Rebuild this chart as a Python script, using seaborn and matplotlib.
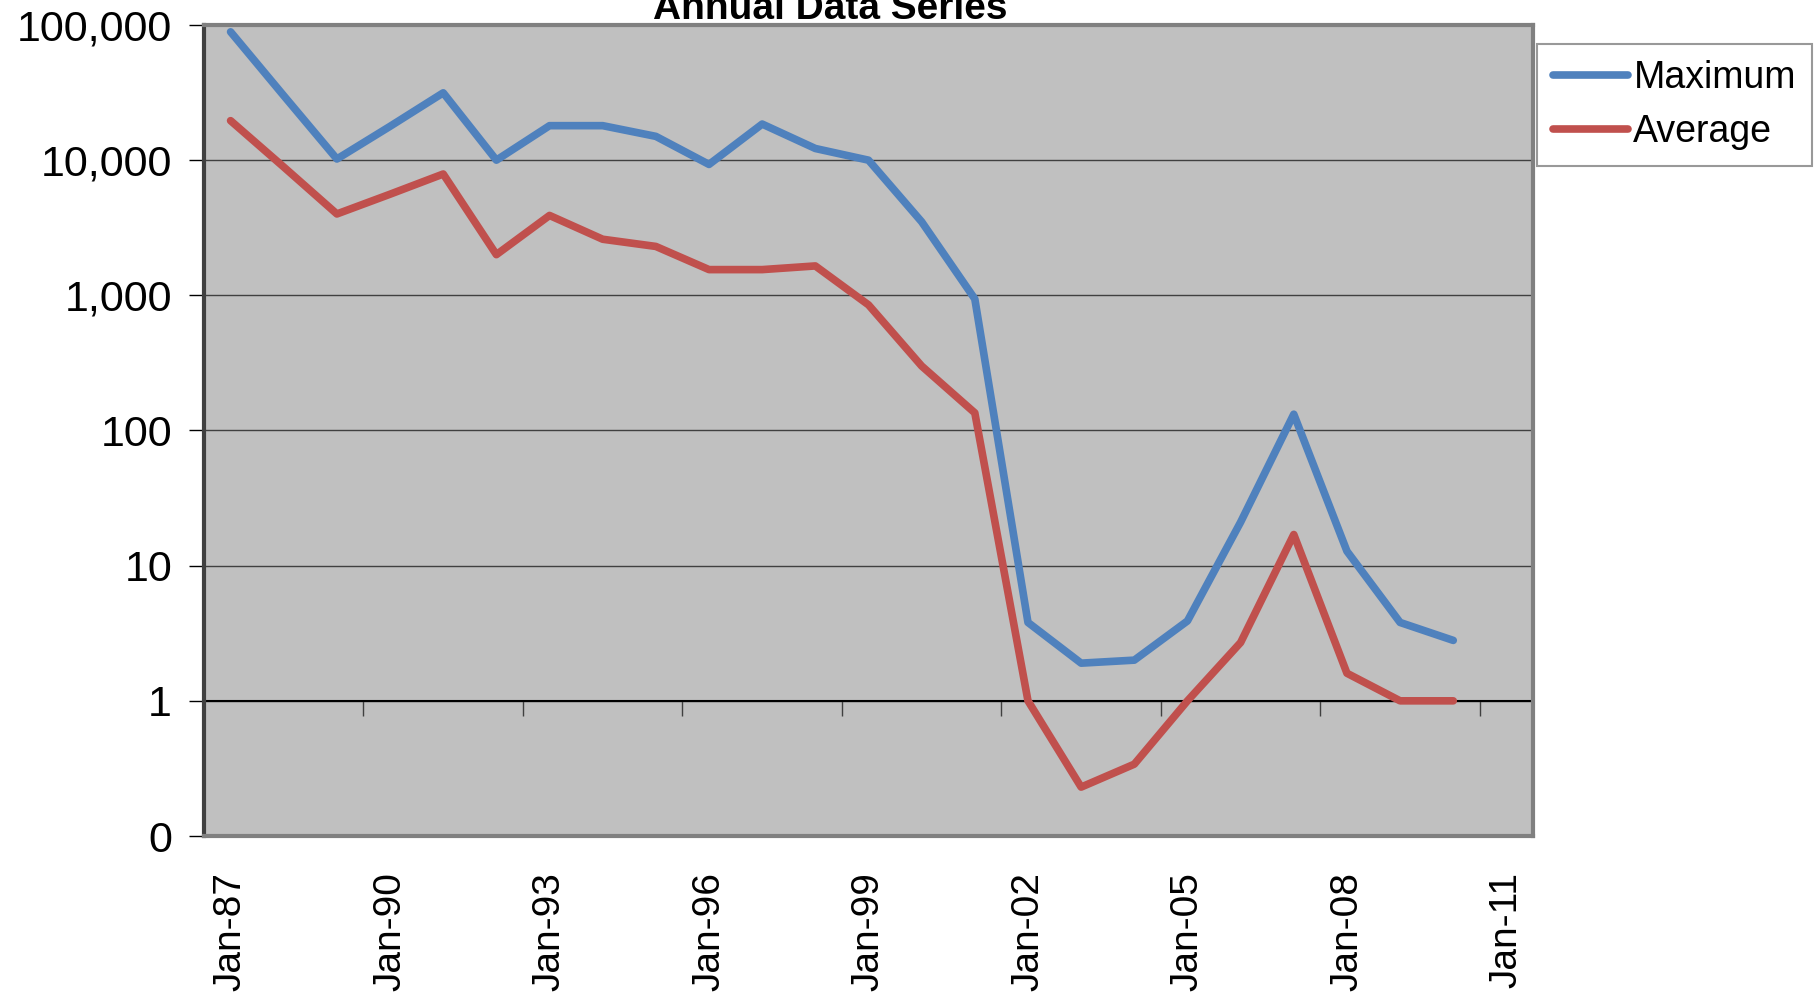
import numpy as np
import pandas as pd
import matplotlib
matplotlib.use("Agg")
import matplotlib.pyplot as plt
import matplotlib.ticker as mticker
import seaborn as sb

years = list(range(1987, 2011))
maximum = [89000, 30000, 10200, 17800, 31500, 10000, 18000, 18000, 15000, 9300,
           18500, 12200, 10000, 3500, 940, 3.8, 1.9, 2.0, 3.9, 21,
           132, 12.8, 3.8, 2.8]
average = [19600, 8900, 4000, 5600, 7900, 2000, 3900, 2600, 2300, 1550,
           1550, 1650, 850, 300, 135, 1.0, 0.23, 0.34, 1.0, 2.7,
           17, 1.6, 1.0, 1.0]
series_names = ["Maximum", "Average"]
series_colors = ["#4F81BD", "#C0504D"]
label_years = list(range(1987, 2012, 3))
tick_labels = ["Jan-%02d" % (y % 100) for y in label_years]
y_ticks = [0.1, 1, 10, 100, 1000, 10000, 100000]
y_labels = ["0", "1", "10", "100", "1,000", "10,000", "100,000"]

df = pd.DataFrame({
    "year": years * 2,
    "value": maximum + average,
    "series": ["Maximum"] * len(years) + ["Average"] * len(years),
})

sb.set_style("white")
plt.rcParams["font.family"] = ["Liberation Sans", "DejaVu Sans"]
plt.rcParams["text.color"] = "black"
plt.rcParams["xtick.color"] = "black"
plt.rcParams["ytick.color"] = "black"

fig = plt.figure(figsize=(18.17, 9.97), dpi=100)
ax = fig.add_axes([204 / 1817, 1 - 836 / 997, (1533 - 204) / 1817, (836 - 25) / 997])
ax.set_facecolor("#C0C0C0")

sb.lineplot(data=df, x="year", y="value", hue="series", hue_order=series_names,
            palette=series_colors, linewidth=5.5, ax=ax, solid_capstyle="round")

ax.set_yscale("log")
ax.set_ylim(0.1, 100000)
ax.set_xlim(1986.5, 2011.5)
ax.set_yticks(y_ticks)
ax.set_yticklabels(y_labels)
ax.yaxis.set_minor_locator(mticker.NullLocator())
ax.grid(True, axis="y", color="#404040", linewidth=1)
ax.set_axisbelow(True)
ax.tick_params(axis="y", length=11, width=1, color="black", direction="out",
               left=True, labelsize=31, pad=12)

ax.set_xticks(label_years)
ax.set_xticklabels(tick_labels, rotation=90)
ax.tick_params(axis="x", length=0, labelsize=28, pad=26)
ax.set_xlabel("")
ax.set_ylabel("")

for s in ["top", "right", "bottom"]:
    ax.spines[s].set_color("#808080")
    ax.spines[s].set_linewidth(3)
ax.spines["left"].set_color("#404040")
ax.spines["left"].set_linewidth(3)

# horizontal axis crosses at 1
ax.axhline(1, color="black", linewidth=1.5, zorder=1.5)
sec = ax.secondary_xaxis(1 / 6)
sec.set_xticks(np.arange(1989.5, 2011, 3))
sec.set_xticklabels([])
sec.tick_params(axis="x", length=11, width=1, color="#404040", direction="out")
sec.spines["bottom"].set_visible(False)

handles, labels = ax.get_legend_handles_labels()
ax.get_legend().remove()
leg = fig.legend(handles, labels, loc="upper left",
                 bbox_to_anchor=(1537 / 1817, 1 - 44 / 997),
                 fontsize=27, frameon=True, fancybox=False, handlelength=2.0,
                 handletextpad=0.15, borderpad=0.42, labelspacing=0.5,
                 borderaxespad=0)
leg.get_frame().set_edgecolor("#808080")
leg.get_frame().set_linewidth(1.5)
for line in leg.get_lines():
    line.set_linewidth(5.5)

fig.text(830 / 1817, 1 - 19 / 997, "Annual Data Series", ha="center",
         va="baseline", fontsize=28, fontweight="bold")

fig.savefig("out.png", dpi=100)
